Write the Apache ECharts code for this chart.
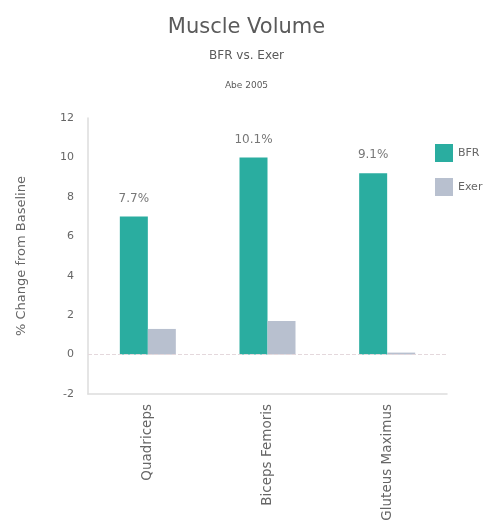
<!DOCTYPE html>
<html>
<head>
<meta charset="utf-8">
<script src="https://cdn.jsdelivr.net/npm/echarts@6/dist/echarts.min.js"></script>
<style>
  html, body { margin: 0; padding: 0; background: #fff; }
  #chart { width: 493px; height: 531px; }
</style>
</head>
<body>
<div id="chart"></div>
<script>
const categories = ['Quadriceps', 'Biceps Femoris', 'Gluteus Maximus'];
const bfrValues = [7.0, 10.0, 9.2];
const exerValues = [1.3, 1.7, 0.1];
const bfrLabels = ['7.7%', '10.1%', '9.1%'];
const yTicks = { min: -2, max: 12, interval: 2 };

const FONT = 'DejaVu Sans';
const chart = echarts.init(document.getElementById('chart'));

chart.setOption({
  animation: false,
  textStyle: { fontFamily: FONT },
  title: [
    { text: 'Muscle Volume', left: 'center', top: 12,
      textStyle: { fontSize: 21, fontWeight: 'normal', color: '#5a5a5a', fontFamily: FONT } },
    { text: 'BFR vs. Exer', left: 'center', top: 45,
      textStyle: { fontSize: 12, fontWeight: 'normal', color: '#5a5a5a', fontFamily: FONT } },
    { text: 'Abe 2005', left: 'center', top: 76,
      textStyle: { fontSize: 9, fontWeight: 'normal', color: '#5a5a5a', fontFamily: FONT } },
  ],
  legend: {
    orient: 'vertical',
    left: 430,
    top: 139,
    itemWidth: 18,
    itemHeight: 18,
    itemGap: 16,
    icon: 'rect',
    textStyle: { fontSize: 11, color: '#666', fontFamily: FONT },
    data: ['BFR', 'Exer'],
  },
  grid: { left: 88, right: 46, top: 118, bottom: 137 },
  xAxis: {
    type: 'category',
    data: categories,
    axisLine: { onZero: false, lineStyle: { color: '#ddd', width: 1.5 } },
    axisTick: { show: false },
    axisLabel: { rotate: 90, margin: 10, fontSize: 13.5, color: '#666', fontFamily: FONT },
  },
  yAxis: {
    type: 'value',
    min: yTicks.min,
    max: yTicks.max,
    interval: yTicks.interval,
    name: '% Change from Baseline',
    nameLocation: 'middle',
    nameGap: 60,
    nameTextStyle: { fontSize: 13, color: '#666', fontFamily: FONT },
    axisLine: { show: true, lineStyle: { color: '#ddd', width: 1.5 } },
    axisTick: { show: false },
    splitLine: { show: false },
    axisLabel: { margin: 14, fontSize: 11, color: '#666', fontFamily: FONT },
  },
  series: [
    {
      name: 'BFR',
      type: 'bar',
      data: bfrValues,
      barWidth: 28,
      barGap: '0%',
      itemStyle: { color: '#2aada0' },
      label: {
        show: true,
        position: 'top',
        distance: 12,
        fontSize: 12,
        color: '#777',
        fontFamily: FONT,
        formatter: p => bfrLabels[p.dataIndex],
      },
      markLine: {
        silent: true,
        symbol: 'none',
        label: { show: false },
        lineStyle: { color: '#e4d8dc', type: 'dashed', width: 1 },
        data: [{ yAxis: 0 }],
      },
    },
    {
      name: 'Exer',
      type: 'bar',
      data: exerValues,
      barWidth: 28,
      itemStyle: { color: '#b8c0cf' },
    },
  ],
});
</script>
</body>
</html>
